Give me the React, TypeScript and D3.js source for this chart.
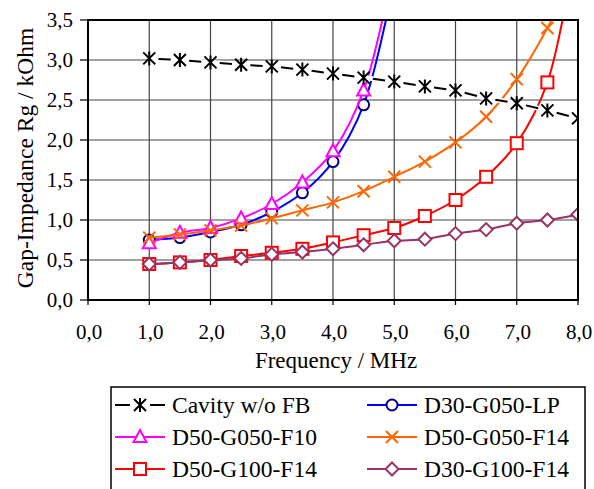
import React from "react";
import * as d3 from "d3";

const freqs = [1, 1.5, 2, 2.5, 3, 3.5, 4, 4.5, 5, 5.5, 6, 6.5, 7, 7.5, 8];
const cavity = [3.02, 3.0, 2.97, 2.94, 2.92, 2.88, 2.83, 2.78, 2.73, 2.67, 2.62, 2.52, 2.46, 2.37, 2.27];
const d30g050lp = [0.75, 0.78, 0.85, 0.94, 1.1, 1.34, 1.73, 2.44, 4.0];
const d50g050f10 = [0.71, 0.84, 0.9, 1.02, 1.2, 1.47, 1.86, 2.62, 4.2];
const d50g050f14 = [0.78, 0.82, 0.87, 0.93, 1.02, 1.12, 1.22, 1.36, 1.54, 1.73, 1.97, 2.29, 2.76, 3.4, 4.2];
const d50g100f14 = [0.45, 0.47, 0.5, 0.55, 0.59, 0.64, 0.72, 0.81, 0.9, 1.05, 1.25, 1.54, 1.96, 2.72, 4.6];
const d30g100f14 = [0.45, 0.47, 0.5, 0.52, 0.57, 0.6, 0.64, 0.69, 0.74, 0.76, 0.83, 0.88, 0.96, 1.0, 1.07];
const xTicks = [0, 1, 2, 3, 4, 5, 6, 7, 8];
const yTicks = [0, 0.5, 1, 1.5, 2, 2.5, 3, 3.5];

const series = [
  { name: "D30-G050-LP", values: d30g050lp, line: "#0000ff", mark: "#000080", shape: "circle" },
  { name: "D50-G050-F10", values: d50g050f10, line: "#ff00ff", mark: "#ff00ff", shape: "triangle" },
  { name: "D50-G050-F14", values: d50g050f14, line: "#ff6600", mark: "#ff6600", shape: "x" },
  { name: "D50-G100-F14", values: d50g100f14, line: "#ff0000", mark: "#ff0000", shape: "square" },
  { name: "D30-G100-F14", values: d30g100f14, line: "#993366", mark: "#993366", shape: "diamond" },
];

const W = 594, H = 489;
const m = { left: 88, right: 578, top: 20, bottom: 300 };
const font = "Liberation Serif";

const x = d3.scaleLinear().domain([0, 8]).range([m.left, m.right]);
const y = d3.scaleLinear().domain([0, 3.5]).range([m.bottom, m.top]);
const fmt = (d) => d3.format(".1f")(d).replace(".", ",");

function Marker({ shape, cx, cy, color }) {
  const s = 6;
  const common = { fill: "white", stroke: color, strokeWidth: 2 };
  if (shape === "circle") return <circle cx={cx} cy={cy} r={5.5} {...common} />;
  if (shape === "triangle")
    return <path d={`M${cx},${cy - 7}L${cx + 6.5},${cy + 5}L${cx - 6.5},${cy + 5}Z`} {...common} />;
  if (shape === "square") return <rect x={cx - 6} y={cy - 6} width={12} height={12} {...common} />;
  if (shape === "diamond")
    return <path d={`M${cx},${cy - 6.5}L${cx + 6.5},${cy}L${cx},${cy + 6.5}L${cx - 6.5},${cy}Z`} {...common} />;
  if (shape === "x")
    return <path d={`M${cx - s},${cy - s}L${cx + s},${cy + s}M${cx - s},${cy + s}L${cx + s},${cy - s}`}
      stroke={color} strokeWidth={2} fill="none" />;
  return <path d={`M${cx - s},${cy - s}L${cx + s},${cy + s}M${cx - s},${cy + s}L${cx + s},${cy - s}M${cx},${cy - s - 1}L${cx},${cy + s + 1}`}
    stroke={color} strokeWidth={2} fill="none" />;
}

function Chart() {
  const smooth = d3.line().x((d) => x(d[0])).y((d) => y(d[1])).curve(d3.curveCatmullRom.alpha(0.5));
  const straight = d3.line().x((d) => x(d[0])).y((d) => y(d[1]));
  const cpts = cavity.map((v, i) => [freqs[i], v]);
  const entries = [{ name: "Cavity w/o FB", line: "black", mark: "black", shape: "star" }, ...series];

  return (
    <svg width={W} height={H} style={{ display: "block" }}>
      <defs>
        <clipPath id="plotclip">
          <rect x={m.left} y={m.top} width={m.right - m.left} height={m.bottom - m.top} />
        </clipPath>
      </defs>

      {/* grid */}
      {yTicks.map((t) => (
        <line key={"h" + t} x1={m.left} x2={m.right} y1={y(t)} y2={y(t)} stroke="#444" strokeWidth={1.2} />
      ))}
      {xTicks.map((t) => (
        <line key={"v" + t} x1={x(t)} x2={x(t)} y1={m.top} y2={m.bottom} stroke="#444" strokeWidth={1.2} />
      ))}

      {/* ticks + labels */}
      {yTicks.map((t) => (
        <g key={"yt" + t}>
          <line x1={m.left - 8} x2={m.left} y1={y(t)} y2={y(t)} stroke="black" strokeWidth={1.2} />
          <text x={m.left - 15} y={y(t) + 7} textAnchor="end"
            style={{ fontFamily: font, fontSize: 21 }}>{fmt(t)}</text>
        </g>
      ))}
      {xTicks.map((t) => (
        <g key={"xt" + t}>
          <line x1={x(t)} x2={x(t)} y1={m.bottom} y2={m.bottom + 5} stroke="black" strokeWidth={1.2} />
          <text x={x(t) + 1} y={339} textAnchor="middle" style={{ fontFamily: font, fontSize: 21 }}>{fmt(t)}</text>
        </g>
      ))}

      <g clipPath="url(#plotclip)">
        {series.map((s) => {
          const pts = s.values.map((v, i) => [freqs[i], v]);
          return (
            <g key={s.name}>
              <path d={smooth(pts)} fill="none" stroke={s.line} strokeWidth={2} />
              {pts.map((p, i) => (
                <Marker key={i} shape={s.shape} cx={x(p[0])} cy={y(p[1])} color={s.mark} />
              ))}
            </g>
          );
        })}
        {/* cavity: dashed with white halo, on top */}
        <path d={straight(cpts)} fill="none" stroke="white" strokeWidth={5} />
        {cpts.slice(0, -1).map((p, i) => {
          const q = cpts[i + 1];
          const x0 = x(p[0]), y0 = y(p[1]), x1 = x(q[0]), y1 = y(q[1]);
          return (
            <line key={"c" + i} x1={x0 + (x1 - x0) * 0.3} y1={y0 + (y1 - y0) * 0.3}
              x2={x0 + (x1 - x0) * 0.7} y2={y0 + (y1 - y0) * 0.7} stroke="black" strokeWidth={2} />
          );
        })}
        {cpts.map((p, i) => (
          <Marker key={"cs" + i} shape="star" cx={x(p[0])} cy={y(p[1])} color="black" />
        ))}
      </g>

      <rect x={m.left} y={m.top} width={m.right - m.left} height={m.bottom - m.top}
        fill="none" stroke="black" strokeWidth={2} />

      <text x={336} y={368} textAnchor="middle" style={{ fontFamily: font, fontSize: 23 }}>
        Frequency / MHz
      </text>
      <text transform="translate(33,158) rotate(-90)" textAnchor="middle" style={{ fontFamily: font, fontSize: 23.5 }}>
        Gap-Impedance Rg / kOhm
      </text>

      {/* legend */}
      <rect x={111} y={387} width={474} height={120} fill="white" stroke="black" strokeWidth={1.5} />
      {entries.map((e, i) => {
        const col = i % 2, row = Math.floor(i / 2);
        const lx = col === 0 ? 115 : 367;
        const ly = 405 + row * 32;
        return (
          <g key={e.name}>
            {e.shape === "star" ? (
              <>
                <line x1={lx} x2={lx + 15} y1={ly} y2={ly} stroke="black" strokeWidth={2} />
                <line x1={lx + 35} x2={lx + 50} y1={ly} y2={ly} stroke="black" strokeWidth={2} />
              </>
            ) : (
              <line x1={lx} x2={lx + 50} y1={ly} y2={ly} stroke={e.line} strokeWidth={2} />
            )}
            <Marker shape={e.shape} cx={lx + 25} cy={ly} color={e.mark} />
            <text x={lx + 57} y={ly + 8} style={{ fontFamily: font, fontSize: 23.5 }}>{e.name}</text>
          </g>
        );
      })}
    </svg>
  );
}

export default function App() {
  return (
    <div style={{ position: "absolute", left: 0, top: 0, width: W, height: H, background: "white" }}>
      <Chart />
    </div>
  );
}
